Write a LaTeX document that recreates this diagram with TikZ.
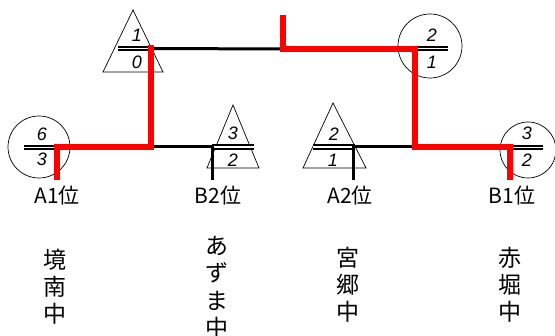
\documentclass[tikz,border=0pt]{standalone}
\usepackage{fontspec}
\setmainfont{Liberation Sans}
\newfontfamily\jpfont{Noto Sans CJK JP}
\usepackage{tikz}

\begin{document}
\begin{tikzpicture}[x=1pt,y=-1pt,
        win/.style={red,line width=6.5pt},
        bar/.style={line width=3pt},
        dbl/.style={double,line width=2pt,double distance=1.4pt},
        outline/.style={line width=0.7pt},
        ring/.style={draw,circle,outline,inner sep=0pt},
        score/.style={font=\fontsize{18}{18}\selectfont\itshape,inner sep=0pt},
        seat/.style={font=\jpfont\fontsize{21}{21}\selectfont,inner sep=0pt},
        school/.style={font=\jpfont\fontsize{23}{23}\selectfont,inner sep=0pt}]
                \useasboundingbox (0,0) rectangle (555,336);

                \coordinate (a1) at (57,147);
                \coordinate (b2) at (212,147);
                \coordinate (a2) at (353,147);
                \coordinate (b1) at (510,147);
                \coordinate (sf1) at (151,45);
                \coordinate (q1) at (151,48.5);
                \coordinate (m1) at (151,147);
                \coordinate (sf2) at (415,49);
                \coordinate (m2) at (415,147);
                \coordinate (fin) at (283,49);
                \coordinate (top) at (283,15);

                \draw[outline] (133,10) -- (103,72) -- (163,72) -- cycle;
                \draw[outline] (233,105) -- (207,168) -- (259,168) -- cycle;
                \draw[outline] (333,103) -- (303,168) -- (366,168) -- cycle;
                \node[ring,minimum size=62pt] (ca1) at (39,147) {};
                \node[ring,minimum size=64pt] (csf) at (430,46) {};
                \node[ring,minimum size=56pt] (cb1) at (528,150) {};

                \draw[dbl] (118,48.5) -- (148,48.5);
                \draw[dbl] (418,48.5) -- (448,48.5);
                \draw[dbl] (24,147.5) -- (54,147.5);
                \draw[dbl] (212,147) -- (254,147);
                \draw[dbl] (313,147) -- (355,147);
                \draw[dbl] (513,147.5) -- (543,147.5);

                \node[score] (s10) at (137,35) {1};
                \node[score] (s00) at (137,62) {0};
                \node[score] (s2f) at (432,35) {2};
                \node[score] (s1f) at (432,62) {1};
                \node[score] (s6) at (42,134) {6};
                \node[score] (s3) at (42,159) {3};
                \node[score] (s3b) at (233,133) {3};
                \node[score] (s2b) at (233,160) {2};
                \node[score] (s2a) at (334,134) {2};
                \node[score] (s1a) at (333,160) {1};
                \node[score] (s3c) at (527,133) {3};
                \node[score] (s2c) at (527,160) {2};

                \draw[bar] (q1) -- (fin);
                \draw[bar] (m1) -- (b2) -- ++(0,33);
                \draw[bar] (m2) -- (a2) -- ++(0,33);
                \draw[win] (top) -- (fin) -- (sf2) -- (m2) -- (b1) -- ++(0,33);
                \draw[win] (sf1) -- (m1) -- (a1) -- ++(0,33);

                \node[seat] (pa1) at (57,196) {A1位};
                \node[seat] (pb2) at (218,196) {B2位};
                \node[seat] (pa2) at (350,196) {A2位};
                \node[seat] (pb1) at (512,196) {B1位};

                \foreach[count=\i] \c in {境,南,中} {
                    \node[school] (ka\i) at (55,233+27*\i) {\c};
                }
                \foreach[count=\i] \c in {あ,ず,ま,中} {
                    \node[school] (az\i) at (217,218+27.5*\i) {\c};
                }
                \foreach[count=\i] \c in {宮,郷,中} {
                    \node[school] (mi\i) at (348,231+27*\i) {\c};
                }
                \foreach[count=\i] \c in {赤,堀,中} {
                    \node[school] (ak\i) at (510,231+27*\i) {\c};
                }
            \end{tikzpicture}
\end{document}
